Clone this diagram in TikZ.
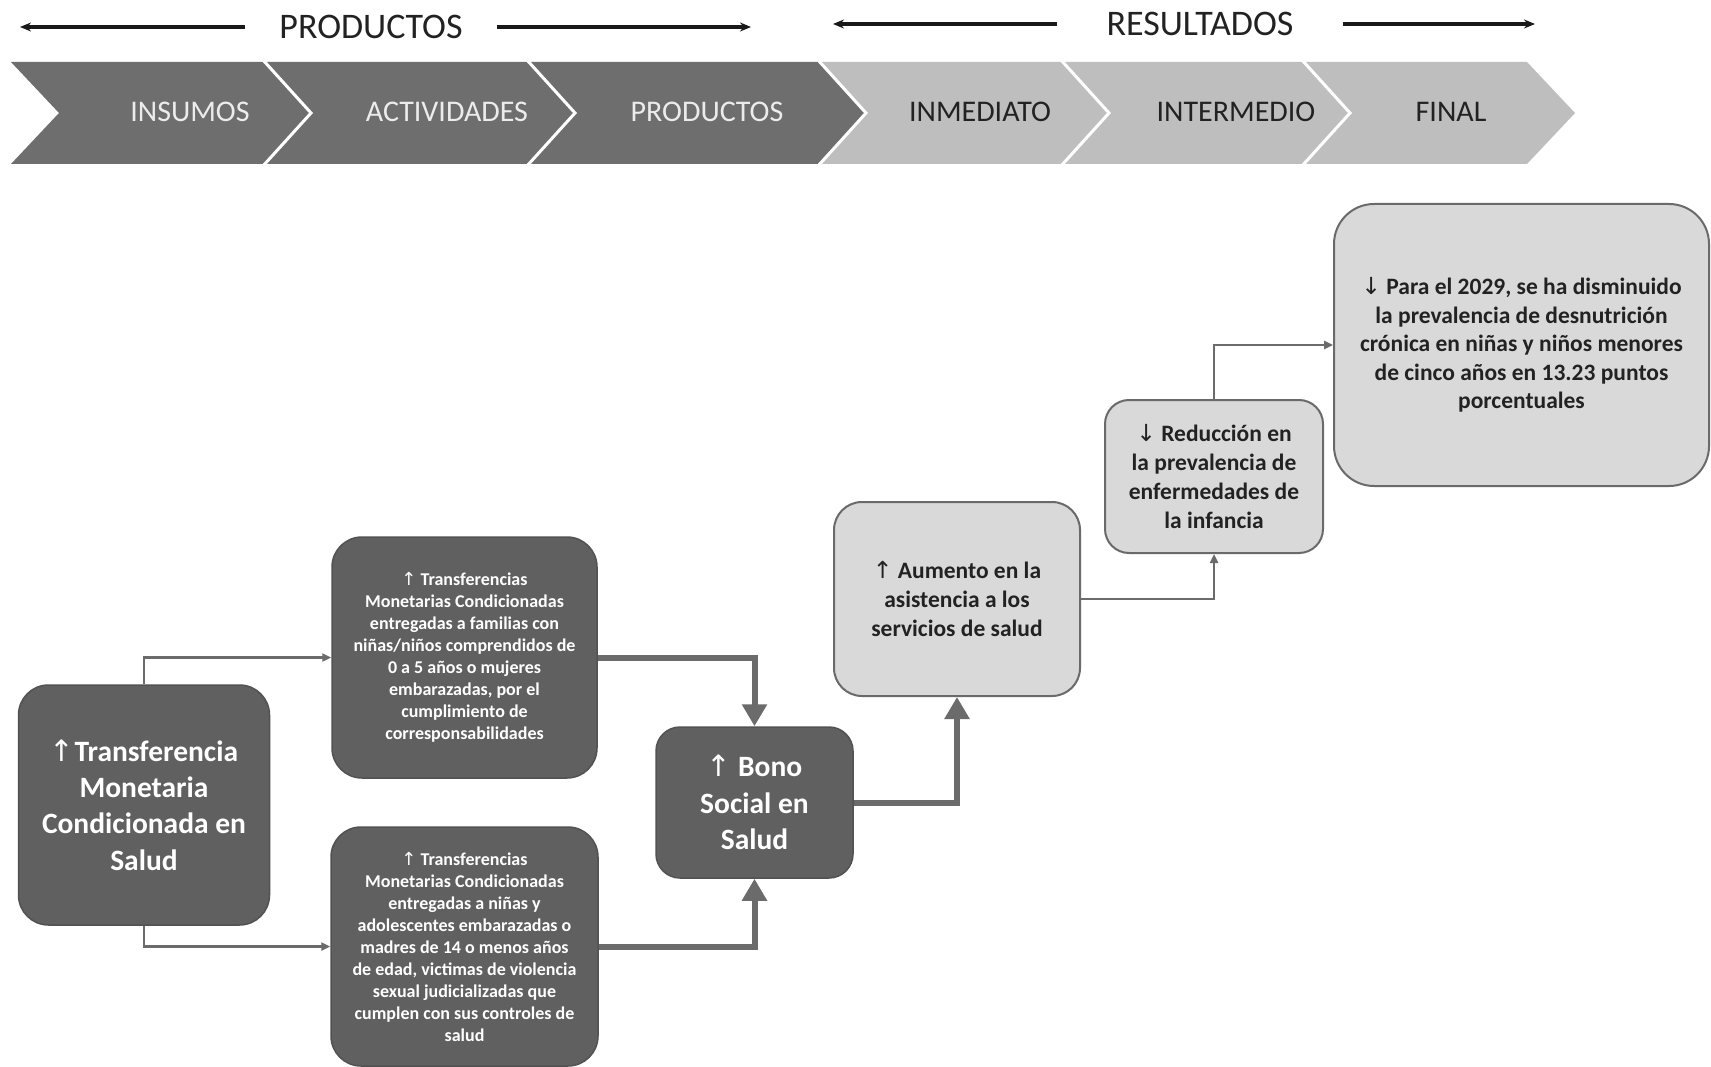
\documentclass[tikz,border=0pt]{standalone}
\usepackage{fontspec}
\setmainfont{Carlito}
\newfontfamily\arrfont{DejaVu Sans}
\usetikzlibrary{arrows.meta}
\newcommand{\myup}{{\mdseries\arrfont\symbol{"2191}}}
\newcommand{\mydn}{{\mdseries\arrfont\symbol{"2193}}}
\definecolor{chevdark}{HTML}{6E6E6E}
\definecolor{chevlight}{HTML}{BEBEBE}
\definecolor{boxdark}{HTML}{606060}
\definecolor{boxlight}{HTML}{D9D9D9}
\definecolor{edgegray}{HTML}{6A6A6A}
\definecolor{linegray}{HTML}{6B6B6B}
\definecolor{txtlight}{HTML}{ECECEC}
\definecolor{txtdark}{HTML}{222222}
\tikzset{
  chevd/.style={fill=chevdark},
  chevl/.style={fill=chevlight},
  chevsep/.style={draw=white, line width=3, line join=miter},
  chevlabd/.style={text=txtlight, font=\fontsize{30}{36}\selectfont, inner sep=0},
  chevlabl/.style={text=txtdark, font=\fontsize{30}{36}\selectfont, inner sep=0},
  title/.style={text=txtdark, font=\fontsize{36}{42}\selectfont, inner ysep=0},
  toparrow/.style={draw=black!90, line width=3.2, -{Stealth[length=11pt,width=9pt]}},
  darkbox/.style={draw=boxdark!85!black, line width=1.5, fill=boxdark, rounded corners=30,
    text=white, align=center, inner sep=0},
  lightbox/.style={draw=edgegray, line width=2, fill=boxlight, rounded corners=28,
    text=txtdark, align=center, inner sep=0, font=\fontsize{23.5}{29.2}\selectfont\bfseries},
  thinarrow/.style={draw=linegray, line width=2.5, -{Triangle[length=9pt,width=8pt]}},
  thickarrow/.style={draw=linegray, line width=6, -{Triangle[length=22pt,width=24pt]}},
}
\begin{document}
\begin{tikzpicture}[x=1pt,y=-1pt]
\useasboundingbox[fill=white] (0,0) rectangle (1711,1067);

% chevron band
\fill[chevd] (11,62) -- (263,62) -- (311,113) -- (263,164) -- (11,164) -- (59,113) -- cycle;
\fill[chevd] (263,62) -- (527,62) -- (575,113) -- (527,164) -- (263,164) -- (311,113) -- cycle;
\fill[chevd] (527,62) -- (818,62) -- (866,113) -- (818,164) -- (527,164) -- (575,113) -- cycle;
\fill[chevl] (818,62) -- (1061,62) -- (1109,113) -- (1061,164) -- (818,164) -- (866,113) -- cycle;
\fill[chevl] (1061,62) -- (1302,62) -- (1350,113) -- (1302,164) -- (1061,164) -- (1109,113) -- cycle;
\fill[chevl] (1302,62) -- (1527,62) -- (1575,113) -- (1527,164) -- (1302,164) -- (1350,113) -- cycle;
\draw[chevsep] (263,60) -- (311,113) -- (263,166);
\draw[chevsep] (527,60) -- (575,113) -- (527,166);
\draw[chevsep] (818,60) -- (866,113) -- (818,166);
\draw[chevsep] (1061,60) -- (1109,113) -- (1061,166);
\draw[chevsep] (1302,60) -- (1350,113) -- (1302,166);

\node[chevlabd] (cins) at (190,112) {INSUMOS};
\node[chevlabd] (cact) at (447,112) {ACTIVIDADES};
\node[chevlabd] (cpro) at (707,112) {PRODUCTOS};
\node[chevlabl] (cinm) at (980,112) {INMEDIATO};
\node[chevlabl] (cint) at (1236,112) {INTERMEDIO};
\node[chevlabl] (cfin) at (1451,112) {FINAL};

% titles with arrows
\node[title, inner xsep=34] (tprod) at (371,27) {PRODUCTOS};
\node[title, inner xsep=49] (tres) at (1200,24) {RESULTADOS};
\coordinate (pl) at (20,27);
\coordinate (pr) at (751,27);
\coordinate (rl) at (833,24);
\coordinate (rr) at (1535,24);
\draw[toparrow] (tprod.west) -- (pl);
\draw[toparrow] (tprod.east) -- (pr);
\draw[toparrow] (tres.west) -- (rl);
\draw[toparrow] (tres.east) -- (rr);

% boxes
\node[darkbox, minimum width=251, minimum height=240,
  font=\fontsize{29.5}{36.4}\selectfont\bfseries] (tmc) at (144,805)
  {\myup Transferencia\\Monetaria\\Condicionada en\\Salud};
\node[darkbox, minimum width=265, minimum height=241,
  font=\fontsize{18}{22}\selectfont\bfseries] (tb) at (464.5,657.5)
  {\myup{} Transferencias\\Monetarias Condicionadas\\entregadas a familias con\\ni\~nas/ni\~nos comprendidos de\\0 a 5 a\~nos o mujeres\\embarazadas, por el\\cumplimiento de\\corresponsabilidades};
\node[darkbox, minimum width=267, minimum height=239,
  font=\fontsize{18}{22}\selectfont\bfseries] (tc) at (464.5,946.5)
  {\myup{} Transferencias\\Monetarias Condicionadas\\entregadas a ni\~nas y\\adolescentes embarazadas o\\madres de 14 o menos a\~nos\\de edad, victimas de violencia\\sexual judicializadas que\\cumplen con sus controles de\\salud};
\node[darkbox, minimum width=197, minimum height=151, rounded corners=24,
  font=\fontsize{29.5}{36.6}\selectfont\bfseries] (bono) at (754.5,802.5)
  {\myup{} Bono\\Social en\\Salud};
\node[lightbox, minimum width=246, minimum height=194] (aum) at (957,599)
  {\myup{} Aumento en la\\asistencia a los\\servicios de salud};
\node[lightbox, minimum width=218, minimum height=153, rounded corners=24] (red) at (1214,476.5)
  {\mydn{} Reducci\'on en\\la prevalencia de\\enfermedades de\\la infancia};
\node[lightbox, minimum width=375, minimum height=282, rounded corners=40,
  font=\fontsize{23.5}{28.6}\selectfont\bfseries] (fin) at (1521.5,345)
  {\mydn{} Para el 2029, se ha disminuido\\la prevalencia de desnutrici\'on\\cr\'onica en ni\~nas y ni\~nos menores\\de cinco a\~nos en 13.23 puntos\\porcentuales};

% connectors
\draw[thinarrow] (tmc.north) |- (tb.west);
\draw[thinarrow] (tmc.south) |- (tc.west);
\draw[thickarrow] (tb.east) -| (bono.north);
\draw[thickarrow] (tc.east) -| (bono.south);
\draw[thickarrow] (bono.east) -| (aum.south);
\draw[thinarrow] (aum.east) -| (red.south);
\draw[thinarrow] (red.north) |- (fin.west);
\end{tikzpicture}
\end{document}
